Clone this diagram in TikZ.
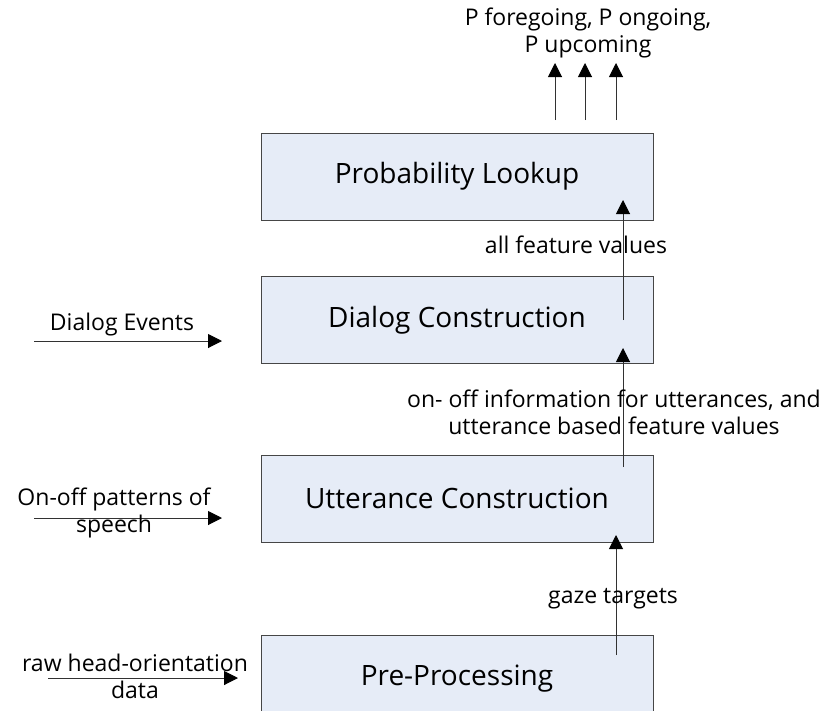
\documentclass[tikz,border=0pt]{standalone}
\usepackage{fontspec}
\setmainfont{Open Sans}
\usetikzlibrary{arrows.meta}
\definecolor{boxfill}{RGB}{230,236,247}
\definecolor{boxline}{RGB}{70,70,70}
\definecolor{linegray}{RGB}{50,50,50}
\tikzset{
  stage/.style={draw=boxline, line width=1pt, fill=boxfill,
    minimum width=392pt, minimum height=87pt, inner sep=0pt,
    font=\fontsize{28}{32}\selectfont},
  lbl/.style={inner sep=0pt, align=center, font=\fontsize{23}{27}\selectfont},
  flow/.style={draw=linegray, line width=1pt,
    -{Triangle[length=14pt,width=14pt,color=black]}}
}
\begin{document}
\begin{tikzpicture}[x=1pt,y=-1pt]
\useasboundingbox (0,0) rectangle (824,710);

% processing stages
\node[stage] (prob)   at (457,176.5) {Probability Lookup};
\node[stage] (dialog) at (457,320)   {Dialog Construction};
\node[stage] (utt)    at (457,498.5) {Utterance Construction};
\node[stage] (pre)    at (457,678.5) {Pre-Processing};

% arrow end points inside / around the stages
\coordinate (dOut) at (623,320);
\coordinate (pIn)  at (623,200);
\coordinate (uOut) at (623,467);
\coordinate (dIn)  at (623,348);
\coordinate (ppOut) at (616,655);
\coordinate (uIn)  at (616,535);

% upward data flow between stages
\draw[flow] (dOut) -- (pIn);
\draw[flow] (uOut) -- (dIn);
\draw[flow] (ppOut) -- (uIn);

% outputs of the probability lookup
\coordinate (o1s) at (555,120); \coordinate (o1e) at (555,63);
\coordinate (o2s) at (585,120); \coordinate (o2e) at (585,63);
\coordinate (o3s) at (616,120); \coordinate (o3e) at (616,63);
\draw[flow] (o1s) -- (o1e);
\draw[flow] (o2s) -- (o2e);
\draw[flow] (o3s) -- (o3e);
\node[lbl] (outlbl) at (588,33) {P foregoing, P ongoing,\\P upcoming};

% external inputs
\coordinate (e1s) at (34,341);  \coordinate (e1e) at (222,341);
\coordinate (e2s) at (34,518);  \coordinate (e2e) at (222,518);
\coordinate (e3s) at (48,678);  \coordinate (e3e) at (238,678);
\draw[flow] (e1s) -- (e1e);
\draw[flow] (e2s) -- (e2e);
\draw[flow] (e3s) -- (e3e);
\node[lbl] (evlbl)  at (122,325) {Dialog Events};
\node[lbl] (splbl)  at (114,513) {On-off patterns of\\speech};
\node[lbl] (rawlbl) at (135,676) {raw head-orientation\\data};

% flow labels
\node[lbl] (featlbl) at (576,245) {all feature values};
\node[lbl] (uttlbl)  at (614,412) {on- off information for utterances, and\\utterance based feature values};
\node[lbl] (gazelbl) at (613,599) {gaze targets};
\end{tikzpicture}
\end{document}
